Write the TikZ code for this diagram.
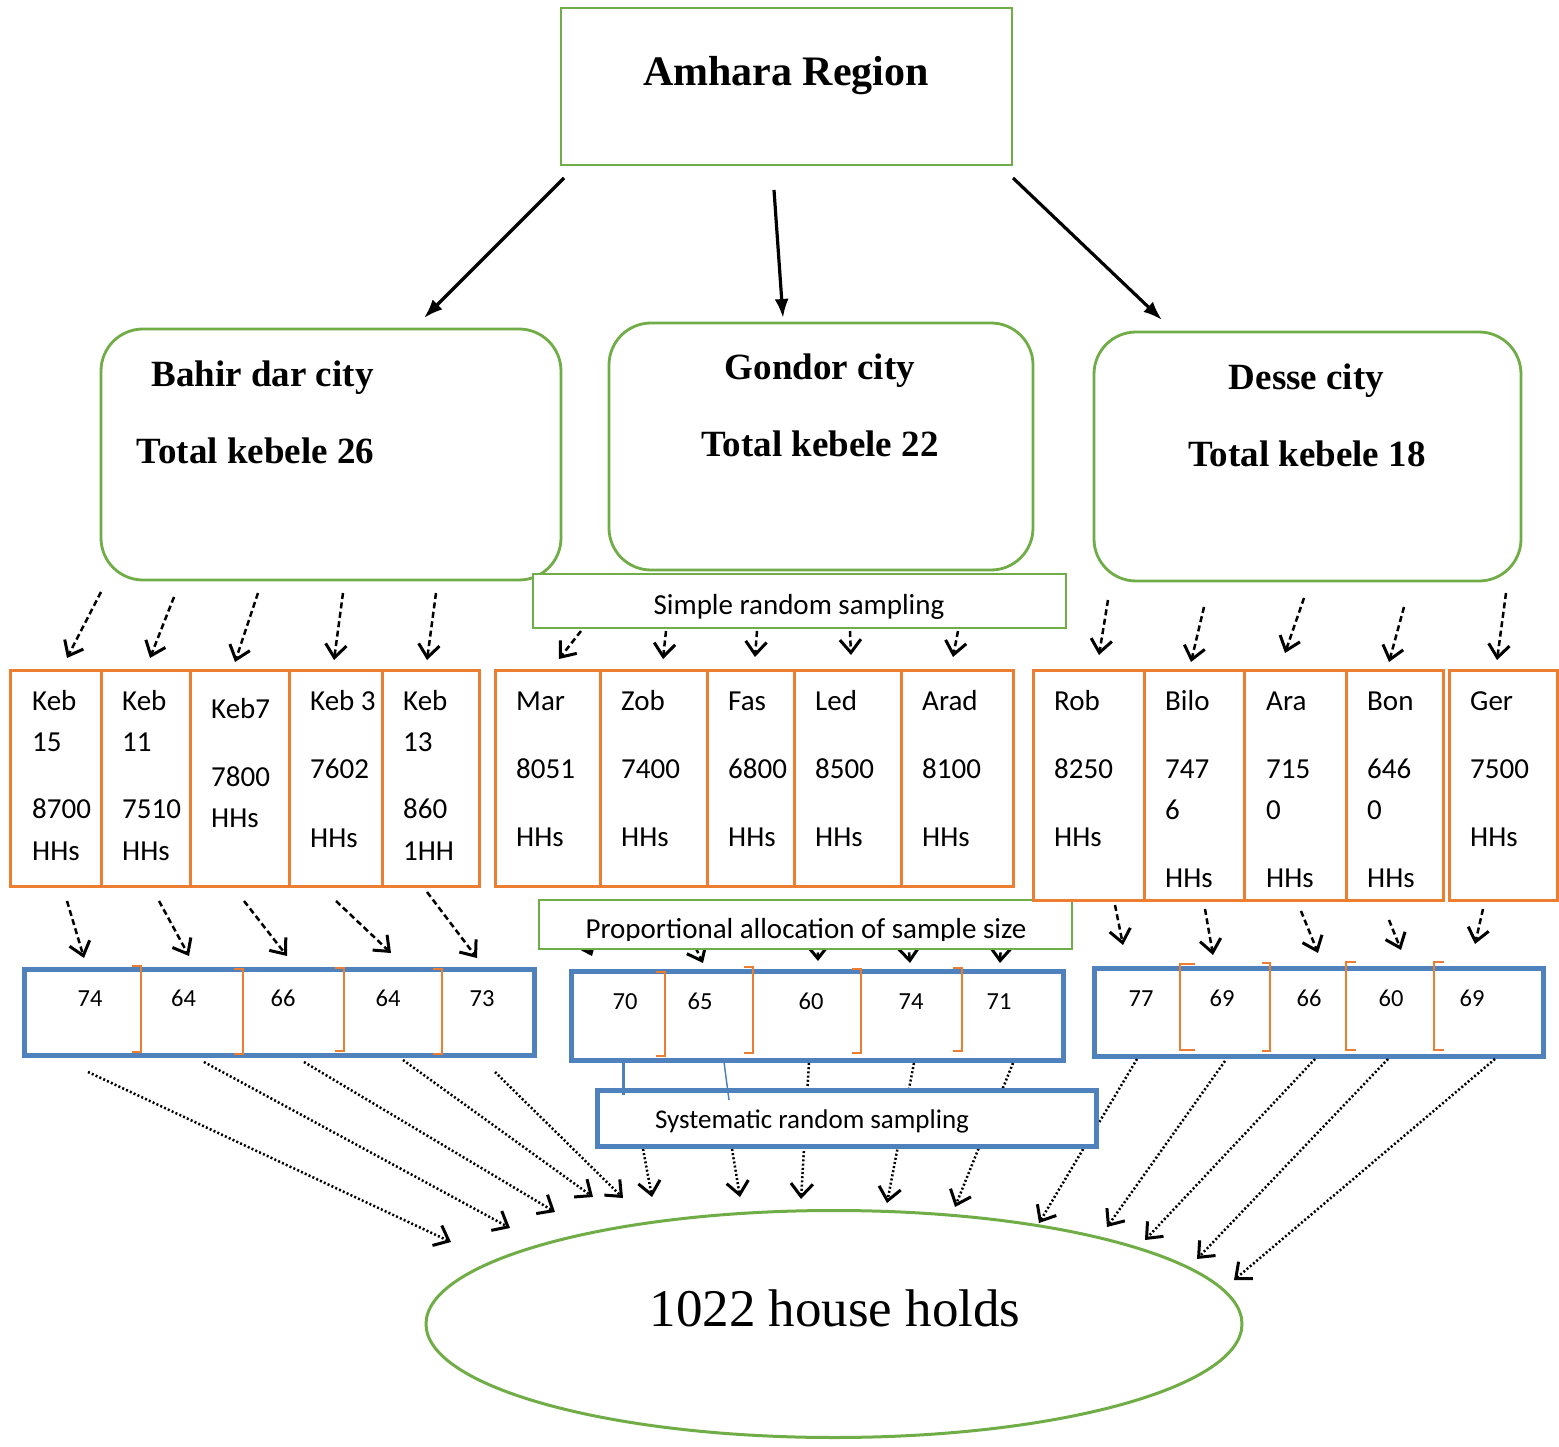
\documentclass[tikz,border=0pt]{standalone}
\usepackage{fontspec}
\setmainfont{Liberation Serif}
\newfontfamily\calfont{Carlito}
\usetikzlibrary{arrows.meta,shapes.geometric,fit}
\definecolor{gr}{HTML}{70AD47}
\definecolor{org}{HTML}{ED7D31}
\definecolor{blu}{HTML}{4F81BD}
\newcommand\cn[4]{\coordinate (#1a) at (#3); \coordinate (#1b) at (#4); \draw[#2] (#1a) -- (#1b);}
\newcommand\kl[4]{\node[kt] (#1) at (#2,#3) {#4};}
\newcommand\nm[4]{\node[nt] (#1) at (#2,#3) {#4};}
\begin{document}
\begin{tikzpicture}[x=1pt,y=-1pt,
  gbox/.style={draw=gr, line width=2.8pt, inner sep=0pt},
  rbox/.style={draw=gr, line width=2.8pt, inner sep=0pt, rounded corners=42pt},
  kbox/.style={draw=org, line width=3pt, inner sep=0pt},
  sbox/.style={draw=blu, line width=5pt, inner sep=0pt},
  brk/.style={draw=org, line width=1.5pt},
  kt/.style={font=\calfont\fontsize{29}{29}\selectfont, inner sep=0pt, anchor=base west},
  nt/.style={font=\calfont\fontsize{24.5}{24.5}\selectfont, inner sep=0pt, anchor=base},
  ht/.style={font=\bfseries\fontsize{37}{37}\selectfont, inner sep=0pt, anchor=base},
  sol/.style={black, line width=3.2pt, -{Latex[length=19pt,width=14pt]}},
  dsh/.style={black, line width=2.5pt, dash pattern=on 6pt off 3.5pt, -{Straight Barb[length=13pt,width=21pt,line width=3pt]}},
  dtt/.style={black, line width=2.5pt, dash pattern=on 2pt off 2.2pt, -{Straight Barb[length=13pt,width=22pt,line width=3pt]}}]
\fill[white] (0,0) rectangle (1559,1447);
\useasboundingbox (0,0) rectangle (1559,1447);

% top
\node[gbox, fit={(561,8) (1012,165)}] (amh) {};
\node[font=\bfseries\fontsize{42}{42}\selectfont, inner sep=0pt, anchor=base] (amht) at (786,86) {Amhara Region};
\node[rbox, fit={(101,329) (561,580)}] (bah) {};
\node[ht] (baht1) at (262.5,387) {Bahir dar city};
\node[ht] (baht2) at (255.5,463) {Total kebele 26};
\node[rbox, fit={(609,323) (1033,570)}] (gon) {};
\node[ht] (gont1) at (820,380) {Gondor city};
\node[ht] (gont2) at (820,456) {Total kebele 22};
\node[rbox, fit={(1094,332) (1521,581)}] (des) {};
\node[ht] (dest1) at (1306.5,390) {Desse city};
\node[ht] (dest2) at (1307,466) {Total kebele 18};

\cn{A1}{sol}{564,178}{424,318}
\cn{A2}{sol}{774,190}{783,318}
\cn{A3}{sol}{1013,178}{1162,320}

\node[gbox, fill=white, fit={(533,574) (1066,628)}] (srs) {};
\node[kt, anchor=base] (srst) at (799,614) {Simple random sampling};

% dashed arrows city -> kebele
\cn{B1}{dsh}{101,592}{67,658}
\cn{B2}{dsh}{174,597}{150,658}
\cn{B3}{dsh}{258,593}{235,662}
\cn{B4}{dsh}{343,593}{334,660}
\cn{B5}{dsh}{436,593}{427,660}
\cn{C1}{dsh}{581,631}{559,659}
\cn{C2}{dsh}{666,631}{663,659}
\cn{C3}{dsh}{757,631}{755,657}
\cn{C4}{dsh}{850,631}{851,655}
\cn{C5}{dsh}{958,631}{953,657}
\cn{D1}{dsh}{1108,600}{1099,655}
\cn{D2}{dsh}{1204,607}{1191,662}
\cn{D3}{dsh}{1304,598}{1285,653}
\cn{D4}{dsh}{1404,607}{1389,662}
\cn{D5}{dsh}{1506,593}{1497,660}

% kebele boxes left
\node[kbox, fit={(10,670) (101,886)}] (k1) {};
\node[kbox, fit={(101,670) (190,886)}] (k2) {};
\node[kbox, fit={(190,670) (289,886)}] (k3) {};
\node[kbox, fit={(289,670) (382,886)}] (k4) {};
\node[kbox, fit={(382,670) (479,886)}] (k5) {};
\kl{k1a}{32}{710}{Keb}\kl{k1b}{32}{751}{15}\kl{k1c}{32}{818}{8700}\kl{k1d}{32}{860}{HHs}
\kl{k2a}{122}{710}{Keb}\kl{k2b}{122}{751}{11}\kl{k2c}{122}{818}{7510}\kl{k2d}{122}{860}{HHs}
\kl{k3a}{211}{718}{Keb7}\kl{k3b}{211}{786}{7800}\kl{k3c}{211}{827}{HHs}
\kl{k4a}{310}{710}{Keb 3}\kl{k4b}{310}{778}{7602}\kl{k4c}{310}{847}{HHs}
\kl{k5a}{403}{710}{Keb}\kl{k5b}{403}{751}{13}\kl{k5c}{403}{818}{860}\kl{k5d}{403}{860}{1HH}

% kebele boxes middle
\node[kbox, fit={(495,670) (600,886)}] (k6) {};
\node[kbox, fit={(600,670) (707,886)}] (k7) {};
\node[kbox, fit={(707,670) (794,886)}] (k8) {};
\node[kbox, fit={(794,670) (901,886)}] (k9) {};
\node[kbox, fit={(901,670) (1013,886)}] (k10) {};
\kl{k6a}{516}{710}{Mar}\kl{k6b}{516}{778}{8051}\kl{k6c}{516}{846}{HHs}
\kl{k7a}{621}{710}{Zob}\kl{k7b}{621}{778}{7400}\kl{k7c}{621}{846}{HHs}
\kl{k8a}{728}{710}{Fas}\kl{k8b}{728}{778}{6800}\kl{k8c}{728}{846}{HHs}
\kl{k9a}{815}{710}{Led}\kl{k9b}{815}{778}{8500}\kl{k9c}{815}{846}{HHs}
\kl{k10a}{922}{710}{Arad}\kl{k10b}{922}{778}{8100}\kl{k10c}{922}{846}{HHs}

% dashed arrows kebele -> sample (left)
\cn{E1}{dsh}{67,901}{84,958}
\cn{E2}{dsh}{159,901}{189,956}
\cn{E3}{dsh}{244,901}{287,956}
\cn{E4}{dsh}{336,901}{391,953}
\cn{E5}{dsh}{427,892}{477,958}
% middle (behind PAS box)
\cn{F1}{dsh}{570,905}{592,956}
\cn{F2}{dsh}{675,905}{703,963}
\cn{F3}{dsh}{817,905}{818,961}
\cn{F4}{dsh}{905,905}{910,963}
\cn{F5}{dsh}{1003,905}{1000,963}

\node[gbox, fill=white, fit={(539,900) (1072,949)}] (pas) {};
\begin{scope}
\clip (541,902) rectangle (1070,940);
\node[kt, anchor=base] (past) at (806,938) {Proportional allocation of sample size};
\end{scope}

% kebele boxes right
\node[kbox, fill=white, fit={(1033,670) (1144,900)}] (k11) {};
\node[kbox, fit={(1144,670) (1244,900)}] (k12) {};
\node[kbox, fit={(1244,670) (1346,900)}] (k13) {};
\node[kbox, fit={(1346,670) (1443,900)}] (k14) {};
\node[kbox, fit={(1449,670) (1557,900)}] (k15) {};
\kl{k11a}{1054}{710}{Rob}\kl{k11b}{1054}{778}{8250}\kl{k11c}{1054}{846}{HHs}
\kl{k12a}{1165}{710}{Bilo}\kl{k12b}{1165}{778}{747}\kl{k12c}{1165}{819}{6}\kl{k12d}{1165}{887}{HHs}
\kl{k13a}{1266}{710}{Ara}\kl{k13b}{1266}{778}{715}\kl{k13c}{1266}{819}{0}\kl{k13d}{1266}{887}{HHs}
\kl{k14a}{1367}{710}{Bon}\kl{k14b}{1367}{778}{646}\kl{k14c}{1367}{819}{0}\kl{k14d}{1367}{887}{HHs}
\kl{k15a}{1470}{710}{Ger}\kl{k15b}{1470}{778}{7500}\kl{k15c}{1470}{846}{HHs}

\cn{G1}{dsh}{1115,905}{1123,945}
\cn{G2}{dsh}{1205,909}{1213,955}
\cn{G3}{dsh}{1301,911}{1318,953}
\cn{G4}{dsh}{1389,920}{1401,950}
\cn{G5}{dsh}{1483,909}{1475,944}

% sample boxes
\node[sbox, fit={(24,969) (534,1055)}] (s1) {};
\node[sbox, fit={(571,971) (1063,1060)}] (s2) {};
\node[sbox, fit={(1094,968) (1543,1056)}] (s3) {};
\nm{n1}{90}{1006}{74}\nm{n2}{183.5}{1006}{64}\nm{n3}{283}{1006}{66}\nm{n4}{388}{1006}{64}\nm{n5}{482}{1006}{73}
\nm{n6}{625}{1009}{70}\nm{n7}{700}{1009}{65}\nm{n8}{811}{1009}{60}\nm{n9}{911}{1009}{74}\nm{n10}{999}{1009}{71}
\nm{n11}{1141}{1006}{77}\nm{n12}{1222}{1006}{69}\nm{n13}{1309}{1006}{66}\nm{n14}{1391}{1006}{60}\nm{n15}{1472}{1006}{69}
% brackets
\draw[brk] (132,966) -| (141,1052) -- (132,1052);
\draw[brk] (234,969) -| (243,1054) -- (234,1054);
\draw[brk] (335,968) -| (344,1051) -- (335,1051);
\draw[brk] (433,969) -| (442,1054) -- (433,1054);
\draw[brk] (656,972) -| (665,1056) -- (656,1056);
\draw[brk] (744,967) -| (753,1053) -- (744,1053);
\draw[brk] (852,969) -| (861,1053) -- (852,1053);
\draw[brk] (953,968) -| (962,1051) -- (953,1051);
\draw[brk] (1195,964) -| (1180,1050) -- (1195,1050);
\draw[brk] (1262,963) -| (1270,1051) -- (1262,1051);
\draw[brk] (1356,962) -| (1346,1050) -- (1356,1050);
\draw[brk] (1444,962) -| (1434,1050) -- (1444,1050);

% dotted arrows to households
\node[draw=gr, line width=3pt, ellipse, minimum width=816pt, minimum height=227pt, inner sep=0pt] (hh) at (834,1324) {};
\node[font=\fontsize{53}{53}\selectfont, inner sep=0pt, anchor=base] (hht) at (835,1326) {1022 house holds};

\cn{H1}{dtt}{88,1072}{451,1242}
\cn{H2}{dtt}{204,1062}{510,1228}
\cn{H3}{dtt}{304,1062}{555,1212}
\cn{H4}{dtt}{403,1060}{593,1197}
\cn{H5}{dtt}{495,1072}{623,1198}
\cn{M1}{dtt}{643,1149}{652,1197}
\cn{M2}{dtt}{732,1149}{740,1197}
\cn{M3}{dtt}{809,1063}{801,1199}
\cn{M4}{dtt}{914,1063}{887,1203}
\cn{M5}{dtt}{1013,1063}{955,1207}
\cn{R1}{dtt}{1137,1059}{1039,1223}
\cn{R2}{dtt}{1225,1061}{1107,1227}
\cn{R3}{dtt}{1315,1059}{1145,1240}
\cn{R4}{dtt}{1388,1059}{1197,1259}
\cn{R5}{dtt}{1495,1059}{1234,1280}

\node[sbox, fill=white, fit={(597,1090) (1096,1146)}] (sys) {};
\node[font=\calfont\fontsize{27}{27}\selectfont, inner sep=0pt, anchor=base] (syst) at (812,1128) {Systematic random sampling};
\coordinate (L1a) at (623.5,1062); \coordinate (L1b) at (623.5,1095);
\draw[blu, line width=3pt] (L1a) -- (L1b);
\coordinate (L2a) at (724,1062); \coordinate (L2b) at (729,1100);
\draw[blu, line width=1.5pt] (L2a) -- (L2b);
\end{tikzpicture}
\end{document}
